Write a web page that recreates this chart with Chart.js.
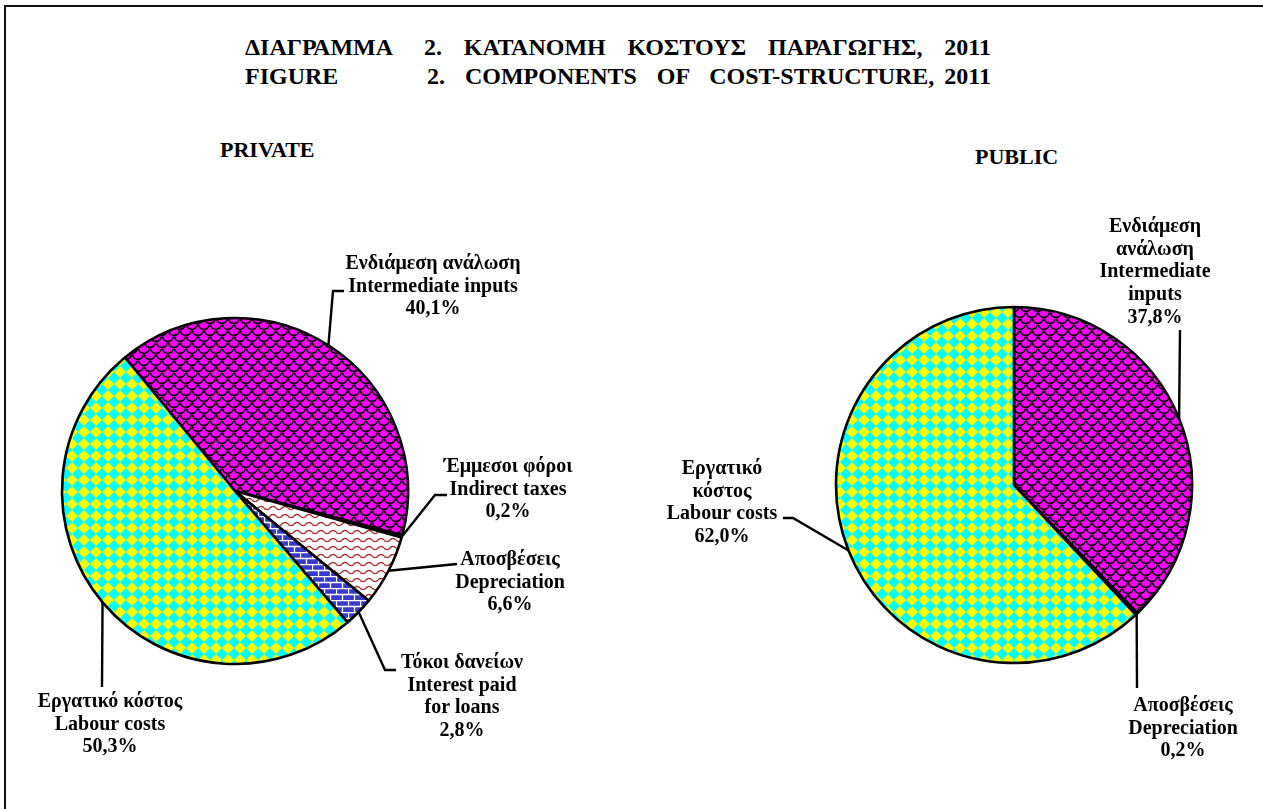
<!DOCTYPE html>
<html>
<head>
<meta charset="utf-8">
<script src="https://cdn.jsdelivr.net/npm/chart.js@4.4.0/dist/chart.umd.min.js"></script>
<style>
  html, body { margin:0; padding:0; background:#fff; }
  body { width:1263px; height:809px; position:relative; overflow:hidden; font-family:"Liberation Serif","Times New Roman",serif; }
  #frame { position:absolute; left:4px; top:5px; width:1400px; height:1000px; border-left:2px solid #111; border-top:2px solid #111; }
  .t { position:absolute; font-weight:bold; font-size:24px; white-space:pre; line-height:1; }
  canvas { position:absolute; left:0; top:0; }
</style>
</head>
<body>
<div id="frame"></div>
<div class="t" style="left:245px; top:35px;">ΔΙΑΓΡΑΜΜΑ</div>
<div class="t fit" data-right="991" style="left:424px; top:35px;">2.  ΚΑΤΑΝΟΜΗ  ΚΟΣΤΟΥΣ  ΠΑΡΑΓΩΓΗΣ,  2011</div>
<div class="t" style="left:245px; top:64px;">FIGURE</div>
<div class="t fit" data-right="991" style="left:427px; top:64px;">2.  COMPONENTS  OF  COST-STRUCTURE, 2011</div>
<div class="t" style="left:220px; top:139px; font-size:22px;">PRIVATE</div>
<div class="t" style="left:975px; top:146px; font-size:22px;">PUBLIC</div>
<canvas id="c1" width="1263" height="809"></canvas>
<canvas id="c2" width="1263" height="809"></canvas>
<script>
// ---- data ----
const privateCategoriesGR = ['Ενδιάμεση ανάλωση', 'Έμμεσοι φόροι', 'Αποσβέσεις', 'Τόκοι δανείων', 'Εργατικό κόστος'];
const privateCategoriesEN = ['Intermediate inputs', 'Indirect taxes', 'Depreciation', 'Interest paid for loans', 'Labour costs'];
const privateValues = [40.1, 0.2, 6.6, 2.8, 50.3];
const publicCategoriesGR = ['Ενδιάμεση ανάλωση', 'Αποσβέσεις', 'Εργατικό κόστος'];
const publicCategoriesEN = ['Intermediate inputs', 'Depreciation', 'Labour costs'];
const publicValues = [37.8, 0.2, 62.0];

// stretch title lines to their right edge with a little word spacing
document.querySelectorAll('.fit').forEach(el => {
  const left = parseFloat(el.style.left);
  const target = parseFloat(el.dataset.right) - left;
  const w = el.getBoundingClientRect().width;
  const spaces = (el.textContent.match(/ /g) || []).length;
  const ws = Math.max(-2, Math.min(6, (target - w) / spaces));
  el.style.wordSpacing = ws + 'px';
});

// ---- patterns ----
function mk(w, h, draw) {
  const c = document.createElement('canvas'); c.width = w; c.height = h;
  const x = c.getContext('2d'); draw(x, w, h);
  return document.getElementById('c1').getContext('2d').createPattern(c, 'repeat');
}
const patScale = mk(12, 12, (x, w, h) => {
  x.fillStyle = '#ff00ff'; x.fillRect(0, 0, w, h);
  x.strokeStyle = '#000'; x.lineWidth = 1.6;
  [[0,0],[12,0],[6,6],[0,12],[12,12]].forEach(([cx, cy]) => {
    x.beginPath(); x.arc(cx, cy, 5.4, 0.1, Math.PI - 0.1); x.stroke();
  });
});
const patDiamond = mk(12, 12, (x, w, h) => {
  x.fillStyle = '#ffff00'; x.fillRect(0, 0, w, h);
  x.fillStyle = '#00ffff';
  x.beginPath(); x.moveTo(w/2, 0); x.lineTo(w, h/2); x.lineTo(w/2, h); x.lineTo(0, h/2); x.closePath(); x.fill();
});
const patWave = mk(12, 8, (x, w, h) => {
  x.fillStyle = '#ffffff'; x.fillRect(0, 0, w, h);
  x.strokeStyle = '#a83232'; x.lineWidth = 1.4;
  x.beginPath();
  for (let i = 0; i <= w; i++) { const y = 4 + 1.6 * Math.sin(i / w * Math.PI * 2); if (i === 0) x.moveTo(i, y); else x.lineTo(i, y); }
  x.stroke();
});
const patBrick = mk(12, 12, (x, w, h) => {
  x.fillStyle = '#3a3acb'; x.fillRect(0, 0, w, h);
  x.strokeStyle = '#ffffff'; x.lineWidth = 1.3;
  x.beginPath();
  x.moveTo(0, 0.5); x.lineTo(w, 0.5); x.moveTo(0, 6.5); x.lineTo(w, 6.5);
  x.moveTo(0.5, 0); x.lineTo(0.5, 6); x.moveTo(6.5, 6); x.lineTo(6.5, 12);
  x.stroke();
});

function fmt(v) { return v.toFixed(1).replace('.', ',') + '%'; }

// label layout: text centre x, first line y, wrap width, leader path after the slice anchor
const privateLabelLayout = [
  { x: 433, y: 264, wrap: 300, path: [[333, 291], [344, 291]] },
  { x: 508, y: 467, wrap: 220, path: [[435, 495], [447, 495]] },
  { x: 510, y: 560, wrap: 220, path: [[457, 564]] },
  { x: 462, y: 663, wrap: 125, path: [[385, 670], [396, 670]] },
  { x: 110, y: 702, wrap: 250, path: [[102, 687]] }
];
const publicLabelLayout = [
  { x: 1155, y: 227, wrap: 115, path: [[1180, 330]] },
  { x: 1183, y: 706, wrap: 220, path: [[1137, 688]] },
  { x: 722, y: 469, wrap: 115, path: [[793, 518], [783, 518]] }
];

function wrap(ctx, text, w) {
  const words = text.split(' '); const out = []; let cur = '';
  words.forEach(wd => {
    const t = cur ? cur + ' ' + wd : wd;
    if (cur && ctx.measureText(t).width > w) { out.push(cur); cur = wd; } else cur = t;
  });
  if (cur) out.push(cur);
  return out;
}

function labelPlugin(gr, en, vals, layout) {
  return {
    id: 'lbl',
    afterDraw(chart) {
      const ctx = chart.ctx;
      const arcs = chart.getDatasetMeta(0).data;
      ctx.save();
      ctx.font = 'bold 20px "Liberation Serif", "Times New Roman", serif';
      ctx.textAlign = 'center'; ctx.textBaseline = 'middle'; ctx.fillStyle = '#000';
      ctx.strokeStyle = '#000'; ctx.lineWidth = 2.4;
      arcs.forEach((a, i) => {
        const L = layout[i];
        const p = a.getProps(['x', 'y', 'startAngle', 'endAngle', 'outerRadius'], true);
        const mid = (p.startAngle + p.endAngle) / 2;
        const ax = p.x + Math.cos(mid) * p.outerRadius, ay = p.y + Math.sin(mid) * p.outerRadius;
        ctx.beginPath(); ctx.moveTo(ax, ay);
        L.path.forEach(([px, py]) => ctx.lineTo(px, py));
        ctx.stroke();
        const lines = [...wrap(ctx, gr[i], L.wrap), ...wrap(ctx, en[i], L.wrap), fmt(vals[i])];
        lines.forEach((s, k) => ctx.fillText(s, L.x, L.y + k * 22.6));
      });
      ctx.restore();
    }
  };
}

function makePie(id, gr, en, vals, colors, rotation, radius, padding, layout) {
  return new Chart(document.getElementById(id), {
    type: 'pie',
    data: { labels: en, datasets: [{ data: vals, backgroundColor: colors, borderColor: '#000', borderWidth: 2.6 }] },
    options: {
      responsive: false, animation: false, rotation: rotation, radius: radius,
      layout: { padding: padding },
      plugins: { legend: { display: false }, tooltip: { enabled: false }, title: { display: false } }
    },
    plugins: [labelPlugin(gr, en, vals, layout)]
  });
}

makePie('c1', privateCategoriesGR, privateCategoriesEN, privateValues,
  [patScale, '#000000', patWave, patBrick, patDiamond], -39.5, 173,
  { left: 0, right: 793, top: 191, bottom: 18 }, privateLabelLayout);
makePie('c2', publicCategoriesGR, publicCategoriesEN, publicValues,
  [patScale, '#000000', patDiamond], 0, 178,
  { left: 765, right: 0, top: 185, bottom: 24 }, publicLabelLayout);
</script>
</body>
</html>
